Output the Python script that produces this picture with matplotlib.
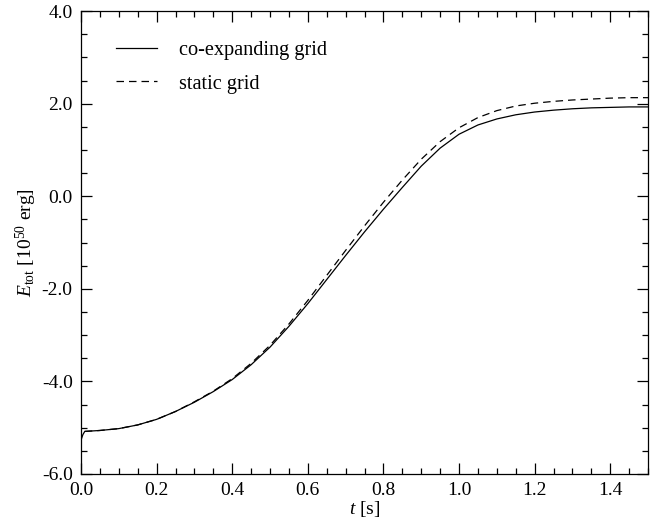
import matplotlib
matplotlib.use("Agg")
import matplotlib.pyplot as plt
from matplotlib.ticker import MultipleLocator, FormatStrFormatter

plt.rcParams["font.family"] = ["Liberation Serif", "DejaVu Serif"]
plt.rcParams["mathtext.fontset"] = "custom"
plt.rcParams["mathtext.rm"] = "Liberation Serif"
plt.rcParams["mathtext.it"] = "Liberation Serif:italic"
plt.rcParams["axes.unicode_minus"] = False

# total energy vs time, co-expanding grid
t_coexp = [0.0, 0.005, 0.01, 0.05, 0.1, 0.15, 0.2, 0.25, 0.3, 0.35, 0.4, 0.45,
           0.5, 0.55, 0.6, 0.65, 0.7, 0.75, 0.8, 0.85, 0.9, 0.95, 1.0, 1.05,
           1.1, 1.15, 1.2, 1.25, 1.3, 1.35, 1.4, 1.45, 1.5]
e_coexp = [-5.27, -5.15, -5.08, -5.06, -5.02, -4.94, -4.82, -4.65, -4.45, -4.22,
           -3.96, -3.64, -3.26, -2.81, -2.32, -1.80, -1.28, -0.77, -0.28, 0.19,
           0.65, 1.04, 1.34, 1.54, 1.67, 1.76, 1.82, 1.86, 1.89, 1.91, 1.92, 1.93, 1.93]

# total energy vs time, static grid
t_static = [0.01, 0.05, 0.1, 0.15, 0.2, 0.25, 0.3, 0.35, 0.4, 0.45, 0.5, 0.55,
            0.6, 0.65, 0.7, 0.75, 0.8, 0.85, 0.9, 0.95, 1.0, 1.05, 1.1, 1.15,
            1.2, 1.25, 1.3, 1.35, 1.4, 1.45, 1.5]
e_static = [-5.08, -5.06, -5.02, -4.94, -4.82, -4.65, -4.44, -4.21, -3.94, -3.61,
            -3.22, -2.76, -2.25, -1.71, -1.17, -0.64, -0.13, 0.35, 0.80, 1.18,
            1.48, 1.70, 1.85, 1.95, 2.01, 2.05, 2.08, 2.10, 2.12, 2.13, 2.13]

fig = plt.figure(figsize=(6.5, 5.29), dpi=100)
ax = fig.add_axes([0.1246, 0.104, 0.8724, 0.875])

ax.plot(t_coexp, e_coexp, color="black", lw=0.9, solid_joinstyle="round",
        label="co-expanding grid")
ax.plot(t_static, e_static, color="black", lw=0.9, dashes=(6, 4),
        dash_joinstyle="round", label="static grid")

ax.set_xlim(0.0, 1.5)
ax.set_ylim(-6.0, 4.0)
ax.xaxis.set_major_locator(MultipleLocator(0.2))
ax.xaxis.set_minor_locator(MultipleLocator(0.05))
ax.yaxis.set_major_locator(MultipleLocator(2.0))
ax.yaxis.set_minor_locator(MultipleLocator(0.5))
ax.xaxis.set_major_formatter(FormatStrFormatter("%.1f"))
ax.yaxis.set_major_formatter(FormatStrFormatter("%.1f"))

ax.tick_params(which="both", direction="in", top=True, right=True,
               labelsize=14, width=0.9, colors="black")
ax.tick_params(which="major", length=8, pad=6)
ax.tick_params(which="minor", length=4.3)
for sp in ax.spines.values():
    sp.set_linewidth(0.9)

ax.set_xlabel(r"$t$ [s]", fontsize=14, labelpad=0)
ax.set_ylabel(r"$E_{\rm tot}$ [10$^{50}$ erg]", fontsize=14, labelpad=2)

ax.legend(loc="upper left", bbox_to_anchor=(0.03, 0.975), frameon=False,
          fontsize=14.6, handlelength=2.0, handletextpad=1.1, labelspacing=0.7)

fig.savefig("out.png", dpi=100)
